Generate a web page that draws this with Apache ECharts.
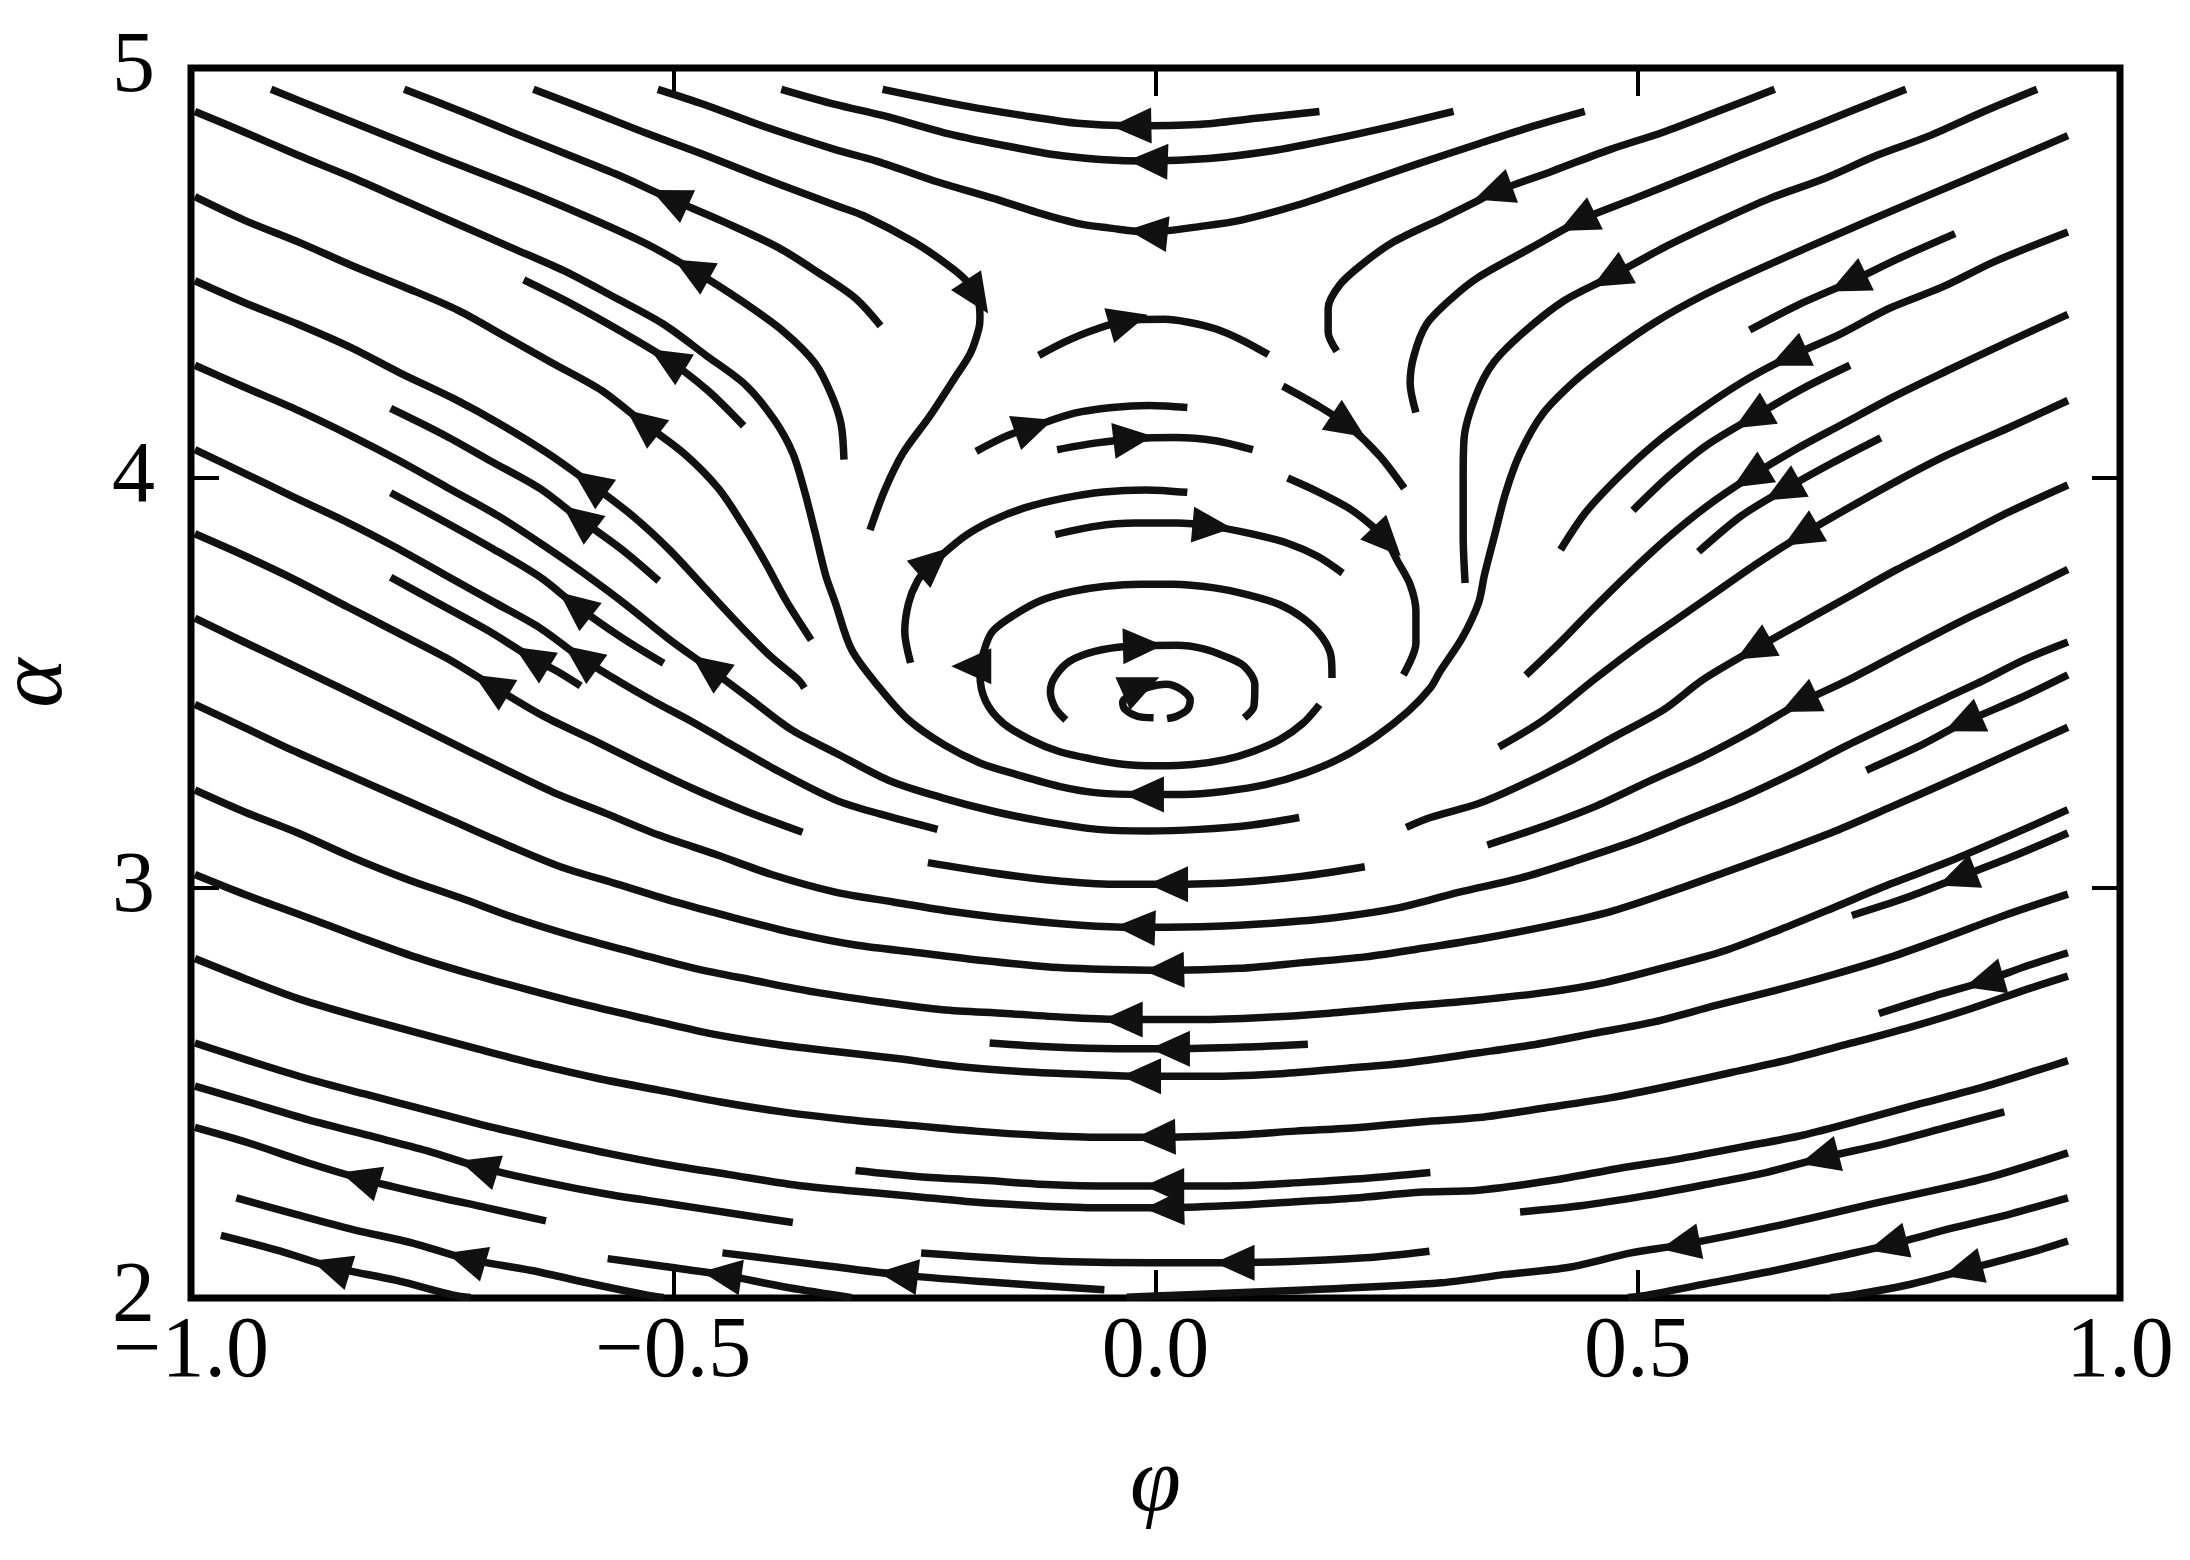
<!DOCTYPE html>
<html lang="en">
<head>
<meta charset="UTF-8">
<title>Streamlines alpha-phi</title>
<style>
  body { margin: 0; padding: 0; background: #ffffff; }
  #chart { width: 2190px; height: 1560px; }
</style>
</head>
<body>
<div id="chart"></div>
<script src="https://cdn.jsdelivr.net/npm/echarts@6/dist/echarts.min.js"></script>
<script>
// axis ranges / ticks
var phiRange = [-1, 1];
var alphaRange = [2, 5];

// each streamline: pts = [phi, alpha] in drawing order,
// arrow = where the arrow head sits, fwd = head points toward the last point
var upperLeft = [
  {pts: [[-0.917,4.948],[-0.860,4.894],[-0.749,4.789],[-0.638,4.686],[-0.532,4.576],[-0.481,4.509],[-0.430,4.433],[-0.385,4.356],[-0.353,4.280],[-0.336,4.203],[-0.326,4.131],[-0.323,4.045]], arrow: [-0.481,4.509], fwd: false},
  {pts: [[-0.779,4.948],[-0.723,4.897],[-0.668,4.844],[-0.613,4.792],[-0.557,4.739],[-0.504,4.682],[-0.447,4.624],[-0.391,4.562],[-0.349,4.500],[-0.311,4.438],[-0.285,4.371]], arrow: [-0.504,4.682], fwd: false},
  {pts: [[-0.655,4.483],[-0.604,4.423],[-0.553,4.356],[-0.506,4.289],[-0.464,4.213],[-0.427,4.127]], arrow: [-0.506,4.289], fwd: false},
  {pts: [[-0.996,4.686],[-0.945,4.629],[-0.889,4.576],[-0.834,4.519],[-0.779,4.466],[-0.723,4.409],[-0.672,4.342],[-0.625,4.280],[-0.574,4.213],[-0.532,4.136],[-0.489,4.060],[-0.453,3.974],[-0.427,3.883],[-0.404,3.792],[-0.383,3.701],[-0.357,3.605]], arrow: [-0.532,4.136], fwd: false},
  {pts: [[-0.996,4.481],[-0.945,4.428],[-0.889,4.375],[-0.834,4.318],[-0.783,4.256],[-0.728,4.194],[-0.676,4.127],[-0.630,4.060],[-0.587,3.988],[-0.544,3.911],[-0.504,3.825],[-0.468,3.734],[-0.434,3.648],[-0.400,3.567],[-0.370,3.507],[-0.364,3.488]], arrow: [-0.587,3.988], fwd: false},
  {pts: [[-0.793,4.170],[-0.740,4.108],[-0.689,4.041],[-0.638,3.974],[-0.598,3.902],[-0.553,3.825],[-0.515,3.749]], arrow: [-0.598,3.902], fwd: false},
  {pts: [[-0.793,3.964],[-0.740,3.897],[-0.689,3.830],[-0.638,3.758],[-0.602,3.691],[-0.553,3.610],[-0.510,3.548]], arrow: [-0.602,3.691], fwd: false},
  {pts: [[-0.793,3.758],[-0.745,3.696],[-0.693,3.629],[-0.647,3.562],[-0.617,3.524],[-0.596,3.493]], arrow: [-0.647,3.562], fwd: false},
  {pts: [[-0.996,4.275],[-0.945,4.222],[-0.889,4.165],[-0.834,4.103],[-0.783,4.041],[-0.732,3.974],[-0.681,3.907],[-0.634,3.835],[-0.596,3.773],[-0.549,3.691],[-0.506,3.610],[-0.464,3.538],[-0.424,3.468],[-0.378,3.387],[-0.332,3.330],[-0.277,3.263],[-0.221,3.220],[-0.166,3.186],[-0.115,3.162],[-0.060,3.143],[-0.008,3.139],[0.045,3.143],[0.098,3.153],[0.149,3.172]], arrow: [-0.464,3.538], fwd: false},
  {pts: [[-0.996,4.069],[-0.945,4.012],[-0.894,3.954],[-0.838,3.892],[-0.787,3.830],[-0.736,3.763],[-0.685,3.696],[-0.638,3.634],[-0.596,3.562],[-0.557,3.505],[-0.520,3.455],[-0.480,3.405],[-0.447,3.360],[-0.395,3.290],[-0.332,3.215],[-0.285,3.180],[-0.226,3.143]], arrow: [-0.596,3.562], fwd: false},
  {pts: [[-0.996,3.864],[-0.945,3.811],[-0.894,3.754],[-0.838,3.686],[-0.787,3.624],[-0.736,3.562],[-0.689,3.495],[-0.636,3.421],[-0.585,3.363],[-0.532,3.301],[-0.481,3.244],[-0.423,3.186],[-0.366,3.136]], arrow: [-0.689,3.495], fwd: false},
  {pts: [[-0.996,3.658],[-0.945,3.600],[-0.894,3.543],[-0.840,3.482],[-0.787,3.421],[-0.734,3.359],[-0.681,3.297],[-0.625,3.234],[-0.570,3.182],[-0.515,3.129],[-0.455,3.081],[-0.398,3.033],[-0.332,2.990],[-0.272,2.966],[-0.209,2.942],[-0.143,2.923],[-0.077,2.909],[-0.021,2.904],[0.055,2.906],[0.121,2.914],[0.187,2.928],[0.253,2.952],[0.315,2.990],[0.378,3.024],[0.437,3.067],[0.497,3.115],[0.552,3.167],[0.607,3.220],[0.663,3.282],[0.714,3.344],[0.765,3.402],[0.820,3.464],[0.859,3.507],[0.901,3.557],[0.946,3.600]], arrow: [-0.021,2.904], fwd: false}
];

var topLines = [
  {pts: [[-0.645,4.948],[-0.585,4.894],[-0.527,4.840],[-0.472,4.792],[-0.415,4.739],[-0.361,4.691],[-0.332,4.665],[-0.302,4.639],[-0.251,4.576],[-0.215,4.519],[-0.196,4.481],[-0.185,4.442],[-0.182,4.395],[-0.183,4.366],[-0.192,4.304],[-0.209,4.241],[-0.234,4.151],[-0.262,4.060],[-0.281,3.969],[-0.296,3.873]], arrow: [-0.185,4.442], fwd: true},
  {pts: [[-0.516,4.948],[-0.468,4.911],[-0.408,4.859],[-0.332,4.801],[-0.289,4.773],[-0.230,4.725],[-0.168,4.682],[-0.123,4.648],[-0.077,4.619],[-0.049,4.610],[-0.008,4.600],[0.051,4.615],[0.089,4.629],[0.149,4.667],[0.209,4.715],[0.268,4.763],[0.336,4.816],[0.386,4.854],[0.445,4.894]], arrow: [-0.008,4.600], fwd: false},
  {pts: [[-0.388,4.948],[-0.332,4.911],[-0.281,4.883],[-0.219,4.842],[-0.157,4.811],[-0.106,4.789],[-0.057,4.777],[-0.008,4.773],[0.055,4.779],[0.121,4.798],[0.185,4.827],[0.247,4.859],[0.309,4.894]], arrow: [-0.008,4.773], fwd: false},
  {pts: [[-0.283,4.948],[-0.196,4.907],[-0.140,4.885],[-0.081,4.865],[-0.028,4.859],[0.043,4.862],[0.107,4.878],[0.170,4.894]], arrow: [-0.025,4.859], fwd: false},
  {pts: [[0.642,4.948],[0.586,4.897],[0.527,4.844],[0.471,4.801],[0.412,4.749],[0.350,4.696],[0.335,4.677],[0.298,4.634],[0.247,4.576],[0.213,4.519],[0.191,4.471],[0.179,4.414],[0.179,4.356],[0.188,4.309]], arrow: [0.350,4.696], fwd: true},
  {pts: [[0.778,4.948],[0.718,4.892],[0.663,4.840],[0.607,4.787],[0.552,4.734],[0.497,4.682],[0.450,4.639],[0.437,4.624],[0.386,4.557],[0.335,4.490],[0.307,4.438],[0.281,4.375],[0.268,4.299],[0.264,4.232],[0.270,4.160]], arrow: [0.437,4.624], fwd: true},
  {pts: [[0.914,4.948],[0.857,4.892],[0.803,4.835],[0.748,4.787],[0.693,4.730],[0.637,4.682],[0.582,4.624],[0.527,4.562],[0.471,4.490],[0.424,4.433],[0.382,4.356],[0.350,4.280],[0.332,4.200],[0.320,4.098],[0.319,4.002],[0.319,3.859],[0.321,3.744]], arrow: [0.471,4.490], fwd: true},
  {pts: [[0.946,4.835],[0.842,4.730],[0.731,4.619],[0.625,4.509],[0.569,4.447],[0.518,4.380],[0.471,4.304],[0.435,4.237],[0.401,4.155],[0.378,4.060],[0.363,3.964],[0.352,3.864],[0.341,3.763],[0.335,3.696],[0.318,3.610],[0.295,3.528],[0.285,3.488],[0.262,3.431],[0.229,3.370],[0.192,3.317],[0.155,3.280],[0.114,3.252],[0.072,3.236],[0.029,3.228],[-0.012,3.228],[-0.060,3.232],[-0.100,3.248],[-0.143,3.276],[-0.182,3.305],[-0.219,3.349],[-0.256,3.410],[-0.286,3.488],[-0.315,3.581],[-0.332,3.696],[-0.342,3.763],[-0.353,3.868],[-0.364,3.969],[-0.376,4.060],[-0.395,4.141],[-0.425,4.227],[-0.466,4.299],[-0.510,4.375],[-0.562,4.442],[-0.613,4.505],[-0.668,4.562],[-0.723,4.619],[-0.779,4.677],[-0.834,4.734],[-0.889,4.787],[-0.945,4.844],[-0.996,4.894]], arrow: [-0.012,3.228], fwd: true}
];

var vortex = [
  {pts: [[-0.121,4.299],[-0.094,4.332],[-0.064,4.361],[-0.028,4.385],[0.009,4.387],[0.034,4.380],[0.062,4.364],[0.089,4.337],[0.117,4.301]], arrow: [-0.028,4.385], fwd: true},
  {pts: [[-0.186,4.065],[-0.156,4.101],[-0.126,4.126],[-0.084,4.158],[-0.045,4.172],[-0.006,4.177],[0.033,4.172]], arrow: [-0.126,4.126], fwd: true},
  {pts: [[-0.102,4.069],[-0.063,4.085],[-0.023,4.096],[0.020,4.099],[0.062,4.091],[0.101,4.069]], arrow: [-0.023,4.096], fwd: true},
  {pts: [[0.132,4.224],[0.170,4.174],[0.200,4.127],[0.232,4.055],[0.258,3.975]], arrow: [0.200,4.127], fwd: true},
  {pts: [[0.137,4.000],[0.168,3.967],[0.200,3.927],[0.225,3.882],[0.240,3.845],[0.251,3.797],[0.264,3.740],[0.270,3.675],[0.270,3.597],[0.257,3.520]], arrow: [0.240,3.845], fwd: true},
  {pts: [[-0.254,3.549],[-0.260,3.626],[-0.256,3.695],[-0.247,3.748],[-0.236,3.780],[-0.200,3.854],[-0.171,3.894],[-0.136,3.927],[-0.095,3.951],[-0.054,3.966],[-0.010,3.971],[0.033,3.965]], arrow: [-0.230,3.797], fwd: true},
  {pts: [[-0.104,3.862],[-0.063,3.882],[-0.021,3.890],[0.022,3.890],[0.059,3.882],[0.101,3.863],[0.137,3.841],[0.168,3.809],[0.194,3.768]], arrow: [0.059,3.882], fwd: true},
  {pts: [[0.183,3.512],[0.182,3.565],[0.172,3.614],[0.153,3.658],[0.129,3.691],[0.096,3.715],[0.061,3.732],[0.018,3.741],[-0.015,3.741],[-0.052,3.736],[-0.087,3.723],[-0.117,3.703],[-0.145,3.668],[-0.169,3.626],[-0.178,3.577],[-0.182,3.520],[-0.176,3.455],[-0.158,3.402],[-0.130,3.362],[-0.100,3.333],[-0.067,3.315],[-0.034,3.302],[0.003,3.298],[0.038,3.301],[0.072,3.313],[0.101,3.333],[0.129,3.362],[0.153,3.402],[0.170,3.447]], arrow: [-0.191,3.541], angle: 180},
  {pts: [[-0.093,3.410],[-0.104,3.439],[-0.109,3.480],[-0.104,3.516],[-0.089,3.553],[-0.063,3.577],[-0.030,3.589],[0.022,3.592],[0.049,3.584],[0.072,3.565],[0.092,3.541],[0.103,3.496],[0.102,3.443],[0.092,3.415]], arrow: [-0.013,3.591], fwd: true},
  {pts: [[-0.002,3.415],[-0.019,3.419],[-0.032,3.437],[-0.034,3.455],[-0.025,3.471],[-0.008,3.489],[0.011,3.497],[0.027,3.484],[0.036,3.459],[0.033,3.435],[0.022,3.419],[0.012,3.413]], arrow: [-0.015,3.494], fwd: true}
];

var upperRight = [
  {pts: [[0.946,4.600],[0.871,4.529],[0.816,4.466],[0.761,4.414],[0.710,4.351],[0.656,4.294],[0.607,4.232],[0.561,4.160],[0.518,4.084],[0.480,4.002],[0.446,3.916],[0.420,3.825]], arrow: [0.656,4.294], fwd: true},
  {pts: [[0.829,4.596],[0.773,4.538],[0.718,4.476],[0.667,4.423],[0.616,4.361]], arrow: [0.718,4.476], fwd: true},
  {pts: [[0.720,4.275],[0.671,4.218],[0.618,4.146],[0.571,4.079],[0.531,4.002],[0.495,3.921]], arrow: [0.618,4.146], fwd: true},
  {pts: [[0.946,4.399],[0.884,4.332],[0.820,4.261],[0.765,4.198],[0.712,4.131],[0.663,4.069],[0.616,4.002],[0.571,3.930],[0.531,3.854],[0.493,3.772],[0.454,3.682],[0.420,3.600],[0.384,3.519]], arrow: [0.616,4.002], fwd: true},
  {pts: [[0.752,4.098],[0.701,4.036],[0.650,3.969],[0.607,3.907],[0.563,3.820]], arrow: [0.650,3.969], fwd: true},
  {pts: [[0.946,4.189],[0.884,4.122],[0.820,4.055],[0.769,3.993],[0.718,3.926],[0.669,3.859],[0.624,3.792],[0.580,3.720],[0.539,3.653],[0.501,3.591],[0.454,3.507],[0.403,3.411],[0.356,3.344]], arrow: [0.669,3.859], fwd: true},
  {pts: [[0.946,3.983],[0.884,3.916],[0.829,3.849],[0.769,3.777],[0.718,3.710],[0.671,3.648],[0.620,3.581],[0.567,3.507],[0.527,3.435],[0.475,3.368],[0.427,3.306],[0.373,3.244],[0.335,3.206],[0.285,3.172],[0.260,3.148]], arrow: [0.620,3.581], fwd: true},
  {pts: [[0.946,3.777],[0.888,3.710],[0.837,3.653],[0.778,3.581],[0.718,3.507],[0.667,3.450],[0.618,3.383],[0.567,3.320],[0.514,3.263],[0.458,3.201],[0.399,3.148],[0.344,3.105]], arrow: [0.667,3.450], fwd: true},
  {pts: [[0.946,3.520],[0.897,3.464],[0.837,3.402],[0.790,3.344],[0.737,3.287]], arrow: [0.837,3.402], fwd: true}
];

var lowerMid = [
  {pts: [[0.946,3.392],[0.888,3.330],[0.816,3.253],[0.761,3.196],[0.705,3.139],[0.646,3.086],[0.590,3.038],[0.533,2.990],[0.471,2.942],[0.410,2.909],[0.335,2.875],[0.285,2.856],[0.217,2.832],[0.153,2.818],[0.087,2.804],[0.009,2.799],[-0.047,2.801],[-0.113,2.808],[-0.179,2.823],[-0.245,2.842],[-0.311,2.861],[-0.374,2.890],[-0.438,2.928],[-0.498,2.966],[-0.557,3.009],[-0.617,3.052],[-0.672,3.105],[-0.728,3.163],[-0.783,3.220],[-0.838,3.277],[-0.894,3.335],[-0.945,3.392],[-0.996,3.448]], arrow: [0.009,2.799], fwd: true},
  {pts: [[0.946,3.191],[0.882,3.124],[0.820,3.062],[0.761,3.009],[0.703,2.952],[0.648,2.899],[0.590,2.847],[0.531,2.808],[0.467,2.770],[0.407,2.746],[0.335,2.727],[0.243,2.708],[0.177,2.694],[0.111,2.684],[0.045,2.679],[-0.034,2.679],[-0.089,2.684],[-0.155,2.694],[-0.221,2.703],[-0.285,2.722],[-0.353,2.746],[-0.417,2.775],[-0.478,2.804],[-0.540,2.842],[-0.600,2.880],[-0.659,2.923],[-0.721,2.976],[-0.779,3.024],[-0.834,3.076],[-0.889,3.134],[-0.945,3.186],[-0.996,3.239]], arrow: [-0.034,2.679], fwd: true},
  {pts: [[0.946,3.134],[0.888,3.076],[0.831,3.024],[0.778,2.976],[0.722,2.933]], arrow: [0.831,3.024], fwd: true},
  {pts: [[0.946,2.985],[0.880,2.933],[0.820,2.880],[0.763,2.832],[0.703,2.789],[0.644,2.751],[0.580,2.713],[0.518,2.674],[0.456,2.646],[0.390,2.617],[0.335,2.598],[0.262,2.574],[0.196,2.560],[0.130,2.547],[0.064,2.541],[-0.015,2.541],[-0.070,2.545],[-0.136,2.552],[-0.202,2.564],[-0.268,2.584],[-0.332,2.601],[-0.398,2.620],[-0.464,2.646],[-0.525,2.679],[-0.587,2.713],[-0.649,2.751],[-0.708,2.789],[-0.768,2.832],[-0.825,2.880],[-0.885,2.933],[-0.945,2.985],[-0.996,3.033]], arrow: [-0.015,2.541], fwd: true},
  {pts: [[0.750,2.694],[0.808,2.737],[0.859,2.772],[0.901,2.808],[0.946,2.842]], arrow: [0.859,2.772], fwd: false},
  {pts: [[0.946,2.785],[0.901,2.751],[0.842,2.703],[0.782,2.660],[0.722,2.622],[0.661,2.584],[0.597,2.550],[0.533,2.517],[0.471,2.488],[0.405,2.464],[0.335,2.440],[0.277,2.430],[0.211,2.416],[0.145,2.407],[0.079,2.397],[0.000,2.392],[-0.055,2.392],[-0.121,2.397],[-0.187,2.407],[-0.253,2.421],[-0.319,2.435],[-0.387,2.454],[-0.451,2.478],[-0.515,2.507],[-0.579,2.536],[-0.640,2.569],[-0.702,2.607],[-0.764,2.646],[-0.823,2.684],[-0.885,2.727],[-0.945,2.780],[-0.996,2.828]], arrow: [0.000,2.392], fwd: true},
  {pts: [[0.946,2.579],[0.914,2.555],[0.854,2.512],[0.793,2.474],[0.733,2.435],[0.671,2.397],[0.607,2.368],[0.544,2.340],[0.480,2.316],[0.412,2.287],[0.335,2.263],[0.273,2.258],[0.207,2.244],[0.141,2.234],[0.075,2.225],[0.009,2.220],[-0.060,2.220],[-0.123,2.225],[-0.189,2.234],[-0.255,2.249],[-0.323,2.263],[-0.378,2.277],[-0.442,2.301],[-0.506,2.325],[-0.570,2.354],[-0.634,2.387],[-0.696,2.421],[-0.757,2.459],[-0.819,2.497],[-0.881,2.536],[-0.940,2.579],[-0.996,2.622]], arrow: [0.009,2.220], fwd: true},
  {pts: [[-0.311,2.311],[-0.245,2.296],[-0.179,2.287],[-0.113,2.277],[-0.047,2.273],[0.009,2.273],[0.087,2.274],[0.153,2.282],[0.219,2.292],[0.285,2.306]], arrow: [0.009,2.273], fwd: false},
  {pts: [[-0.172,2.622],[-0.106,2.612],[-0.040,2.608],[0.015,2.608],[0.092,2.612],[0.158,2.619]], arrow: [0.015,2.608], fwd: false},
  {pts: [[-0.236,3.062],[-0.172,3.038],[-0.108,3.019],[-0.043,3.009],[0.013,3.009],[0.087,3.014],[0.153,3.029],[0.217,3.052]], arrow: [0.013,3.009], fwd: false},
  {pts: [[-0.243,2.110],[-0.108,2.090],[-0.001,2.086],[0.082,2.086],[0.217,2.098],[0.284,2.114]], arrow: [0.082,2.086], fwd: false}
];

var lowerRight = [
  {pts: [[0.378,2.210],[0.441,2.225],[0.507,2.249],[0.571,2.277],[0.633,2.306],[0.688,2.340],[0.759,2.378],[0.820,2.416],[0.880,2.454]], arrow: [0.688,2.340], fwd: false},
  {pts: [[0.946,2.354],[0.867,2.296],[0.808,2.263],[0.744,2.230],[0.682,2.196],[0.618,2.163],[0.544,2.129],[0.493,2.110],[0.429,2.075],[0.361,2.057],[0.296,2.037],[0.161,2.020],[0.034,2.008],[-0.030,2.002]], arrow: [0.544,2.129], fwd: true},
  {pts: [[0.946,2.244],[0.888,2.206],[0.829,2.172],[0.759,2.129],[0.705,2.100],[0.642,2.067],[0.578,2.038],[0.510,2.007],[0.490,2.001]], arrow: [0.759,2.129], fwd: true},
  {pts: [[0.946,2.139],[0.906,2.110],[0.837,2.067],[0.782,2.033],[0.722,2.007],[0.700,2.001]], arrow: [0.837,2.067], fwd: true}
];

var lowerLeft = [
  {pts: [[-0.996,2.517],[-0.940,2.478],[-0.879,2.435],[-0.817,2.397],[-0.755,2.359],[-0.702,2.320],[-0.632,2.282],[-0.568,2.253],[-0.504,2.230],[-0.438,2.206],[-0.376,2.184]], arrow: [-0.702,2.320], fwd: false},
  {pts: [[-0.996,2.416],[-0.940,2.378],[-0.879,2.330],[-0.825,2.292],[-0.757,2.253],[-0.693,2.220],[-0.632,2.188]], arrow: [-0.825,2.292], fwd: false},
  {pts: [[-0.953,2.244],[-0.894,2.206],[-0.832,2.167],[-0.770,2.134],[-0.715,2.096],[-0.647,2.067],[-0.581,2.033],[-0.527,2.007],[-0.510,2.001]], arrow: [-0.715,2.096], fwd: false},
  {pts: [[-0.969,2.153],[-0.908,2.115],[-0.855,2.076],[-0.787,2.043],[-0.728,2.007],[-0.710,2.001]], arrow: [-0.855,2.076], fwd: false},
  {pts: [[-0.568,2.096],[-0.509,2.077],[-0.450,2.057],[-0.380,2.025],[-0.315,2.001]], arrow: [-0.450,2.057], fwd: false},
  {pts: [[-0.449,2.110],[-0.380,2.090],[-0.267,2.057],[-0.180,2.040],[-0.053,2.020]], arrow: [-0.267,2.057], fwd: false}
];

var streamlines = [].concat(upperLeft, topLines, vortex, upperRight, lowerMid, lowerRight, lowerLeft);

var ink = '#111111';
var serif = "'Liberation Serif', 'DejaVu Serif', serif";

var chart = echarts.init(document.getElementById('chart'), null, {renderer: 'canvas'});

function fmtPhi(v) {
  return (v < 0 ? '\u2212' : '') + Math.abs(v).toFixed(1);
}

var tickStyle = {show: true, inside: true, length: 28, lineStyle: {color: '#000', width: 4}};
var noLine = {show: false, onZero: false};

var lineSeries = streamlines.map(function (s) {
  return {
    type: 'line',
    data: s.pts,
    xAxisIndex: 0,
    yAxisIndex: 0,
    showSymbol: false,
    symbol: 'none',
    smooth: 0.3,
    silent: true,
    clip: true,
    z: 2,
    lineStyle: {color: ink, width: 7.5, cap: 'butt', join: 'round', opacity: 1}
  };
});

var option = {
  animation: false,
  backgroundColor: '#ffffff',
  grid: {
    left: 191, top: 68, width: 1929, height: 1230,
    containLabel: false,
    outerBoundsMode: 'none',
    show: true, borderColor: '#000', borderWidth: 7,
    backgroundColor: 'transparent'
  },
  xAxis: [
    {
      type: 'value', min: phiRange[0], max: phiRange[1], interval: 0.5,
      position: 'bottom',
      axisLine: noLine,
      axisTick: tickStyle,
      splitLine: {show: false},
      axisLabel: {formatter: fmtPhi, fontFamily: serif, fontSize: 86, color: '#000', margin: 12},
      name: '\u03c6', nameLocation: 'middle', nameGap: 142,
      nameTextStyle: {fontFamily: serif, fontStyle: 'italic', fontSize: 92, color: '#000'}
    },
    {
      type: 'value', min: phiRange[0], max: phiRange[1], interval: 0.5,
      position: 'top',
      axisLine: noLine,
      axisTick: tickStyle,
      splitLine: {show: false},
      axisLabel: {show: false}
    }
  ],
  yAxis: [
    {
      type: 'value', min: alphaRange[0], max: alphaRange[1], interval: 1,
      position: 'left',
      axisLine: noLine,
      axisTick: tickStyle,
      splitLine: {show: false},
      axisLabel: {fontFamily: serif, fontSize: 86, color: '#000', margin: 36},
      name: '\u03b1', nameLocation: 'middle', nameGap: 108, nameRotate: 90,
      nameTextStyle: {fontFamily: serif, fontStyle: 'italic', fontSize: 94, color: '#000'}
    },
    {
      type: 'value', min: alphaRange[0], max: alphaRange[1], interval: 1,
      position: 'right',
      axisLine: noLine,
      axisTick: tickStyle,
      splitLine: {show: false},
      axisLabel: {show: false}
    }
  ],
  series: lineSeries
};

chart.setOption(option);

// arrow heads: orientation taken from the local tangent of each line in pixel space
function arrowAngle(s) {
  if (s.angle !== undefined) return s.angle;
  var a = chart.convertToPixel({seriesIndex: 0}, s.arrow);
  var best = null, bd = Infinity;
  for (var i = 0; i < s.pts.length - 1; i++) {
    var p = chart.convertToPixel({seriesIndex: 0}, s.pts[i]);
    var q = chart.convertToPixel({seriesIndex: 0}, s.pts[i + 1]);
    var vx = q[0] - p[0], vy = q[1] - p[1];
    var len = vx * vx + vy * vy;
    if (len === 0) continue;
    var t = ((a[0] - p[0]) * vx + (a[1] - p[1]) * vy) / len;
    t = Math.max(0, Math.min(1, t));
    var dx = p[0] + t * vx - a[0], dy = p[1] + t * vy - a[1];
    var d = dx * dx + dy * dy;
    if (d < bd) { bd = d; best = [vx, vy]; }
  }
  var sg = s.fwd ? 1 : -1;
  return Math.atan2(-best[1] * sg, best[0] * sg) * 180 / Math.PI;
}

var arrowData = streamlines.map(function (s) {
  return {value: s.arrow, symbolRotate: arrowAngle(s) - 90};
});

chart.setOption({
  series: lineSeries.concat([{
    type: 'scatter',
    data: arrowData,
    xAxisIndex: 0,
    yAxisIndex: 0,
    symbol: 'triangle',
    symbolSize: [36, 40],
    silent: true,
    z: 3,
    itemStyle: {color: ink, opacity: 1}
  }])
});
</script>
</body>
</html>
